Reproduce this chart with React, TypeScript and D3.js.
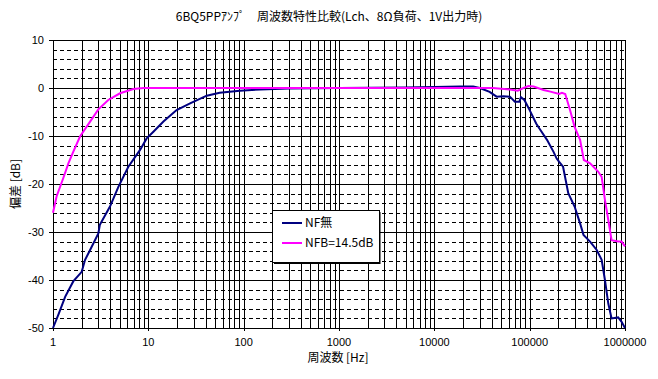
import React from "react";
import * as d3 from "d3";

const title = "6BQ5PPｱﾝﾌﾟ　周波数特性比較(Lch、8Ω負荷、1V出力時)";
const xLabel = "周波数  [Hz]";
const yLabel = "偏差  [dB]";
const seriesNames = ["NF無", "NFB=14.5dB"];
const seriesColors = ["#000080", "#FF00FF"];
const xTicks = [1, 10, 100, 1000, 10000, 100000, 1000000];
const yTicks = [10, 0, -10, -20, -30, -40, -50];

const freqNF = [1, 1.15, 1.34, 1.63, 2.0, 2.17, 2.45, 2.99, 3.1, 3.96, 4.85, 6.17, 8.19, 9.6, 11.3, 14.4, 19.8, 27.4, 41, 56, 91, 149, 300, 1000, 5000, 10000, 18600, 25600, 30000, 38000, 45000, 53000, 62000, 70000, 78000, 81000, 88000, 100000, 117000, 126000, 152000, 178000, 192000, 204000, 224000, 254000, 296000, 338000, 367000, 430000, 505000, 569000, 616000, 668000, 723000, 848000, 921000, 1000000];
const dbNF = [-50, -47, -43.5, -40.3, -38.3, -35.8, -33.75, -30.3, -28.5, -24.7, -20.6, -16.4, -12.9, -10.5, -9.1, -7.0, -4.6, -3.2, -1.6, -1.0, -0.55, -0.3, -0.1, 0, 0.1, 0.2, 0.3, 0.3, 0, -0.8, -1.8, -1.7, -1.8, -2.85, -2.85, -1.9, -2.5, -4.6, -7.4, -8.4, -10.8, -13.3, -14.7, -15.4, -16.4, -21.9, -24.7, -28.2, -30.6, -32, -33.75, -35.8, -40, -44.9, -48, -47.8, -48.7, -50];

const freqNFB = [1, 1.09, 1.28, 1.45, 1.63, 1.92, 2.45, 2.99, 3.8, 5.05, 6.96, 8.9, 100, 1000, 10000, 41000, 62000, 75000, 85000, 97000, 110000, 140000, 165000, 204000, 218000, 236000, 265000, 296000, 338000, 370000, 430000, 522000, 569000, 616000, 668000, 723000, 848000, 921000, 1000000];
const dbNFB = [-26, -22.6, -18.8, -15.7, -13.3, -10.1, -7.0, -4.45, -2.5, -1.1, -0.2, 0, 0, 0, 0, 0, -0.3, -0.55, -0.05, 0.4, 0.3, -0.4, -0.75, -1.25, -1.0, -1.25, -4.6, -8.1, -10.8, -15, -15.7, -17.4, -18.5, -23.3, -27.5, -31.7, -32, -32, -33];

const W = 658, H = 379;
const L = 53, R = 625, T = 40, B = 328;

export default function App() {
  const x = d3.scaleLog().domain([1, 1000000]).range([L, R]);
  const y = d3.scaleLinear().domain([-50, 10]).range([B, T]);

  const minorX: number[] = [];
  for (let e = 0; e < 6; e++) {
    for (let m = 2; m <= 9; m++) minorX.push(m * Math.pow(10, e));
  }
  const minorY: number[] = [];
  for (let v = -48; v < 10; v += 2) if (v % 10 !== 0) minorY.push(v);

  const line = d3
    .line<[number, number]>()
    .x((d) => x(d[0]))
    .y((d) => y(d[1]));

  const dNF = line(freqNF.map((f, i) => [f, dbNF[i]] as [number, number])) || "";
  const dNFB = line(freqNFB.map((f, i) => [f, dbNFB[i]] as [number, number])) || "";

  const font = "'Liberation Sans', Arial, sans-serif";
  const jfont = "'Noto Sans CJK JP', sans-serif";

  return (
    <svg
      width={W}
      height={H}
      style={{ position: "absolute", left: 0, top: 0, background: "#fff" }}
    >
      <rect x={0} y={0} width={W} height={H} fill="#fff" />
      {minorY.map((v) => (
        <line key={"my" + v} x1={L} x2={R} y1={Math.round(y(v)) + 0.5} y2={Math.round(y(v)) + 0.5} stroke="#000" strokeWidth={1} strokeDasharray="4,3" />
      ))}
      {minorX.map((v) => (
        <line key={"mx" + v} x1={Math.round(x(v)) + 0.5} x2={Math.round(x(v)) + 0.5} y1={T} y2={B} stroke="#000" strokeWidth={1} />
      ))}
      {xTicks.map((v) => (
        <line key={"xx" + v} x1={Math.round(x(v)) + 0.5} x2={Math.round(x(v)) + 0.5} y1={T} y2={B + 3} stroke="#000" strokeWidth={1} />
      ))}
      {yTicks.map((v) => (
        <line key={"yy" + v} x1={L - 4} x2={R} y1={Math.round(y(v)) + 0.5} y2={Math.round(y(v)) + 0.5} stroke="#000" strokeWidth={1} />
      ))}
      <line x1={L + 0.5} x2={L + 0.5} y1={T} y2={B} stroke="#000" strokeWidth={1} />

      <path d={dNF} fill="none" stroke={seriesColors[0]} strokeWidth={2} />
      <path d={dNFB} fill="none" stroke={seriesColors[1]} strokeWidth={2} />

      {yTicks.map((v) => (
        <text key={"yl" + v} x={L - 9} y={y(v) + 4} textAnchor="end" fontSize={11} fontFamily={font}>
          {v}
        </text>
      ))}
      {xTicks.map((v) => (
        <text key={"xl" + v} x={x(v)} y={B + 18} textAnchor="middle" fontSize={11} fontFamily={font}>
          {v}
        </text>
      ))}

      <text x={W / 2} y={21} textAnchor="middle" fontSize={12} fontFamily={jfont}>
        {title}
      </text>
      <text x={338} y={362} textAnchor="middle" fontSize={12} fontFamily={jfont}>
        {xLabel}
      </text>
      <text transform={`translate(20,${(T + B) / 2}) rotate(-90)`} textAnchor="middle" fontSize={12} fontFamily={jfont}>
        {yLabel}
      </text>

      <rect x={272.5} y={210.5} width={107} height={52} fill="#fff" stroke="#000" strokeWidth={1} />
      <line x1={380} x2={380} y1={212} y2={264} stroke="#000" strokeWidth={1} />
      <line x1={274} x2={380} y1={263.5} y2={263.5} stroke="#000" strokeWidth={1} />
      {seriesNames.map((n, i) => (
        <g key={n}>
          <line x1={282} x2={302} y1={223 + i * 20} y2={223 + i * 20} stroke={seriesColors[i]} strokeWidth={2} />
          <text x={305} y={227 + i * 20} fontSize={12} fontFamily={jfont}>
            {n}
          </text>
        </g>
      ))}
    </svg>
  );
}
